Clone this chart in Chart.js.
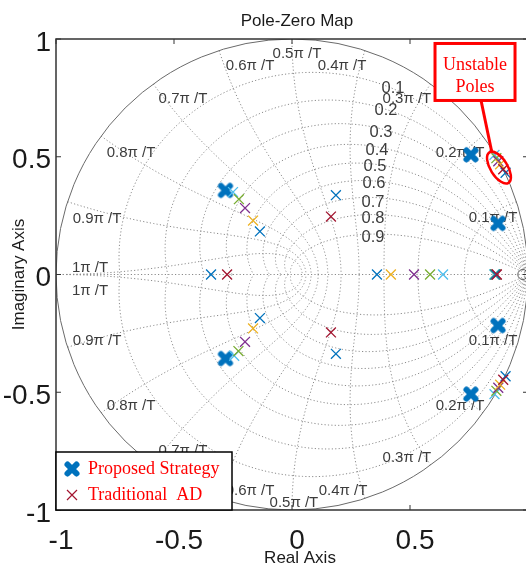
<!DOCTYPE html>
<html>
<head>
<meta charset="utf-8">
<script src="https://cdn.jsdelivr.net/npm/chart.js@4.4.1/dist/chart.umd.min.js"></script>
<style>
  html, body { margin: 0; padding: 0; background: #fff; overflow: hidden; }
  canvas { display: block; }
</style>
</head>
<body>
<canvas id="pzmap" width="530" height="568"></canvas>
<script>
// ------------------------------------------------------------
// Pole-zero map, z-plane, with zgrid
// ------------------------------------------------------------

// poles (real / imaginary parts)
const proposedRe = [-0.282, -0.282, 0.758, 0.758, 0.873, 0.873];
const proposedIm = [0.357, -0.357, 0.508, -0.508, 0.217, -0.217];
const tradRe = [-0.275, 0.165, 0.165, 0.895, 0.895, 0.868];
const tradIm = [0, 0.246, -0.246, 0.447, -0.447, 0];
const blueRe = [-0.343, 0.186, 0.186, 0.360, -0.136, -0.136, 0.905, 0.905, 0.862];
const blueIm = [0, 0.337, -0.337, 0, 0.183, -0.185, 0.432, -0.432, 0];
const yellowRe = [0.419, -0.165, -0.165, 0.882, 0.882, 0.864];
const yellowIm = [0, 0.229, -0.229, 0.468, -0.468, 0];
const purpleRe = [0.517, -0.199, -0.199, 0.874, 0.874, 0.866];
const purpleIm = [0, 0.282, -0.286, 0.481, -0.481, 0];
const greenRe = [0.585, -0.225, -0.227, 0.866, 0.866, 0.860];
const greenIm = [0, 0.320, -0.325, 0.494, -0.494, 0];
const cyanRe = [0.640, -0.250, -0.245, 0.858, 0.858, 0.857];
const cyanIm = [0, 0.350, -0.345, 0.508, -0.508, 0];
const zeroRe = [0.978];
const zeroIm = [0];

// zgrid levels
const zetaLevels = [0.1, 0.2, 0.3, 0.4, 0.5, 0.6, 0.7, 0.8, 0.9];
const wnLevels = [0.1, 0.2, 0.3, 0.4, 0.5, 0.6, 0.7, 0.8, 0.9, 1];   // x pi/T
const axisTicks = [-1, -0.5, 0, 0.5, 1];

const pts = (re, im) => re.map((v, i) => ({ x: v, y: im[i] }));

// label spots for the grid text (data units)
const wnLabelSpots = [
    [0.852, 0.242], [0.712, 0.518], [0.487, 0.747], [0.212, 0.887], [0.021, 0.938],
    [-0.178, 0.887], [-0.462, 0.747], [-0.682, 0.518], [-0.826, 0.238], [-0.856, 0.030]
];
const wnLabelSpotsLow = [
    [0.852, -0.280], [0.712, -0.556], [0.487, -0.777], [0.216, -0.917], [0.008, -0.968],
    [-0.178, -0.917], [-0.462, -0.747], [-0.682, -0.556], [-0.826, -0.280], [-0.856, -0.068]
];
const zetaLabelSpots = [
    [0.428, 0.790], [0.398, 0.696], [0.377, 0.603], [0.360, 0.527], [0.352, 0.459],
    [0.347, 0.386], [0.343, 0.306], [0.343, 0.238], [0.343, 0.157]
];

const BLUE = '#0072BD';
const DARKRED = '#A2142F';
const SANS = '"Liberation Sans", Arial, sans-serif';
const SERIF = '"Liberation Serif", "Times New Roman", serif';

// fat rounded X for the proposed strategy
function boldCross(color) {
    const c = document.createElement('canvas');
    c.width = 20; c.height = 20;
    const g = c.getContext('2d');
    g.strokeStyle = color;
    g.lineWidth = 6;
    g.lineCap = 'round';
    g.beginPath();
    g.moveTo(5.5, 5.5); g.lineTo(14.5, 14.5);
    g.moveTo(14.5, 5.5); g.lineTo(5.5, 14.5);
    g.stroke();
    return c;
}
const fatX = boldCross(BLUE);

const zgridPlugin = {
    id: 'zgrid',
    beforeDatasetsDraw(chart) {
        const { ctx, chartArea: a, scales: { x, y } } = chart;
        const px = v => x.getPixelForValue(v);
        const py = v => y.getPixelForValue(v);

        ctx.save();
        ctx.beginPath();
        ctx.rect(a.left, a.top, a.right - a.left, a.bottom - a.top);
        ctx.clip();

        ctx.strokeStyle = '#8a8a8a';
        ctx.lineWidth = 1;
        ctx.setLineDash([1.2, 2.2]);

        const curve = (fn, n) => {
            [1, -1].forEach(s => {
                ctx.beginPath();
                for (let i = 0; i <= n; i++) {
                    const [re, im] = fn(i / n);
                    const X = px(re), Y = py(s * im);
                    if (i === 0) ctx.moveTo(X, Y); else ctx.lineTo(X, Y);
                }
                ctx.stroke();
            });
        };

        // constant damping
        zetaLevels.forEach(z => {
            const q = Math.sqrt(1 - z * z);
            curve(t => {
                const th = Math.PI * t;
                const r = Math.exp(-z * th / q);
                return [r * Math.cos(th), r * Math.sin(th)];
            }, 240);
        });
        // constant natural frequency
        wnLevels.forEach(w => {
            const wn = w * Math.PI;
            curve(t => {
                const z = Math.sin(t * Math.PI / 2);
                const r = Math.exp(-z * wn);
                const th = wn * Math.sqrt(1 - z * z);
                return [r * Math.cos(th), r * Math.sin(th)];
            }, 160);
        });
        ctx.beginPath();
        ctx.moveTo(px(-1), py(0));
        ctx.lineTo(px(1), py(0));
        ctx.stroke();

        // unit circle
        ctx.setLineDash([]);
        ctx.strokeStyle = '#6a6a6a';
        ctx.beginPath();
        ctx.ellipse(px(0), py(0), px(1) - px(0), py(0) - py(1), 0, 0, 2 * Math.PI);
        ctx.stroke();

        // grid labels
        ctx.fillStyle = '#3c3c3c';
        ctx.textAlign = 'center';
        ctx.textBaseline = 'middle';
        ctx.font = '15px ' + SANS;
        wnLevels.forEach((w, i) => {
            const txt = (w === 1 ? '1' : w.toFixed(1)) + 'π /T';
            ctx.fillText(txt, px(wnLabelSpots[i][0]), py(wnLabelSpots[i][1]));
            ctx.fillText(txt, px(wnLabelSpotsLow[i][0]), py(wnLabelSpotsLow[i][1]));
        });
        ctx.font = '16.5px ' + SANS;
        zetaLevels.forEach((z, i) => {
            ctx.fillText(z.toFixed(1), px(zetaLabelSpots[i][0]), py(zetaLabelSpots[i][1]));
        });
        ctx.restore();
    },
    afterDraw(chart) {
        const { ctx, chartArea: a, scales: { x, y } } = chart;
        const px = v => x.getPixelForValue(v);
        const py = v => y.getPixelForValue(v);
        ctx.save();

        // axes box + inward ticks
        ctx.strokeStyle = '#333';
        ctx.lineWidth = 1.5;
        ctx.strokeRect(a.left, a.top, a.right - a.left, a.bottom - a.top);
        ctx.lineWidth = 1;
        ctx.beginPath();
        axisTicks.forEach(t => {
            ctx.moveTo(px(t), a.bottom); ctx.lineTo(px(t), a.bottom - 5);
            ctx.moveTo(px(t), a.top); ctx.lineTo(px(t), a.top + 5);
            ctx.moveTo(a.left, py(t)); ctx.lineTo(a.left + 5, py(t));
            ctx.moveTo(a.right, py(t)); ctx.lineTo(a.right - 5, py(t));
        });
        ctx.stroke();

        // title and axis labels
        ctx.fillStyle = '#1a1a1a';
        ctx.font = '17px ' + SANS;
        ctx.textAlign = 'center';
        ctx.textBaseline = 'middle';
        ctx.fillText('Pole-Zero Map', 297, 21);
        ctx.fillText('Real Axis', 300, 558);
        ctx.save();
        ctx.translate(19.5, (a.top + a.bottom) / 2);
        ctx.rotate(-Math.PI / 2);
        ctx.fillText('Imaginary Axis', 0, 0);
        ctx.restore();

        // legend, bottom-left corner
        const lx = a.left, ly = a.bottom - 58;
        ctx.fillStyle = '#fff';
        ctx.fillRect(lx, ly, 176, 58);
        ctx.strokeStyle = '#000';
        ctx.lineWidth = 1.5;
        ctx.strokeRect(lx, ly, 176, 58);
        ctx.drawImage(fatX, lx + 6, ly + 7);
        ctx.strokeStyle = DARKRED;
        ctx.lineWidth = 1.2;
        ctx.beginPath();
        ctx.moveTo(lx + 11, ly + 38); ctx.lineTo(lx + 21, ly + 48);
        ctx.moveTo(lx + 21, ly + 38); ctx.lineTo(lx + 11, ly + 48);
        ctx.stroke();
        ctx.fillStyle = '#ff0000';
        ctx.font = '18px ' + SERIF;
        ctx.textAlign = 'left';
        ctx.fillText('Proposed Strategy', lx + 32, ly + 17);
        ctx.fillText('Traditional  AD', lx + 32, ly + 43);

        // "Unstable Poles" callout
        const bx0 = px(0.606), bx1 = px(0.945), by0 = py(0.981), by1 = py(0.739);
        ctx.fillStyle = '#fff';
        ctx.fillRect(bx0, by0, bx1 - bx0, by1 - by0);
        ctx.strokeStyle = '#ff0000';
        ctx.lineWidth = 3;
        ctx.strokeRect(bx0, by0, bx1 - bx0, by1 - by0);
        ctx.beginPath();
        ctx.moveTo(px(0.801), by1);
        ctx.lineTo(px(0.847), py(0.518));
        ctx.stroke();
        ctx.lineWidth = 2.5;
        ctx.beginPath();
        ctx.ellipse(px(0.877), py(0.454), 18, 8.5, 58 * Math.PI / 180, 0, 2 * Math.PI);
        ctx.stroke();
        ctx.fillStyle = '#ff0000';
        ctx.textAlign = 'center';
        ctx.fillText('Unstable', (bx0 + bx1) / 2, by0 + 22);
        ctx.fillText('Poles', (bx0 + bx1) / 2, by0 + 44);

        ctx.restore();
    }
};

const small = (label, re, im, color, order) => ({
    label,
    data: pts(re, im),
    pointStyle: 'crossRot',
    pointRadius: 7,
    borderWidth: 1.3,
    borderColor: color,
    backgroundColor: color,
    showLine: false,
    order
});

// pin the plot box: no extra room for overhanging tick labels
const noOverhang = s => { s.paddingLeft = 0; s.paddingRight = 0; s.paddingTop = 0; s.paddingBottom = 0; };

new Chart(document.getElementById('pzmap'), {
    type: 'scatter',
    data: {
        datasets: [
            {
                label: 'Proposed Strategy',
                data: pts(proposedRe, proposedIm),
                pointStyle: fatX,
                pointRadius: 10,
                order: 9
            },
            small('Traditional AD', tradRe, tradIm, DARKRED, 1),
            small('k1', blueRe, blueIm, BLUE, 2),
            small('k2', yellowRe, yellowIm, '#EDB120', 3),
            small('k3', purpleRe, purpleIm, '#7E2F8E', 4),
            small('k4', greenRe, greenIm, '#77AC30', 5),
            small('k5', cyanRe, cyanIm, '#4DBEEE', 6),
            {
                label: 'zeros',
                data: pts(zeroRe, zeroIm),
                pointStyle: 'circle',
                pointRadius: 5,
                borderWidth: 1,
                borderColor: '#555',
                backgroundColor: 'rgba(0,0,0,0)',
                order: 0
            }
        ]
    },
    options: {
        responsive: false,
        animation: false,
        events: [],
        layout: { autoPadding: false, padding: { top: 39, right: 2, left: 0, bottom: 0 } },
        plugins: { legend: { display: false }, tooltip: { enabled: false }, title: { display: false } },
        scales: {
            x: {
                type: 'linear', min: -1, max: 1,
                grid: { display: false, drawTicks: false },
                border: { display: false },
                ticks: { stepSize: 0.5, padding: 14, labelOffset: 5, color: '#1a1a1a',
                         font: { family: SANS, size: 28 },
                         callback: v => (v === 1 ? '' : String(v)) },
                afterFit: s => { s.height = 58; noOverhang(s); }
            },
            y: {
                type: 'linear', min: -1, max: 1,
                grid: { display: false, drawTicks: false },
                border: { display: false },
                ticks: { stepSize: 0.5, padding: 5, labelOffset: 4, color: '#1a1a1a',
                         font: { family: SANS, size: 28 },
                         callback: v => String(v) },
                afterFit: s => { s.width = 56; noOverhang(s); }
            }
        }
    },
    plugins: [zgridPlugin]
});
</script>
</body>
</html>
